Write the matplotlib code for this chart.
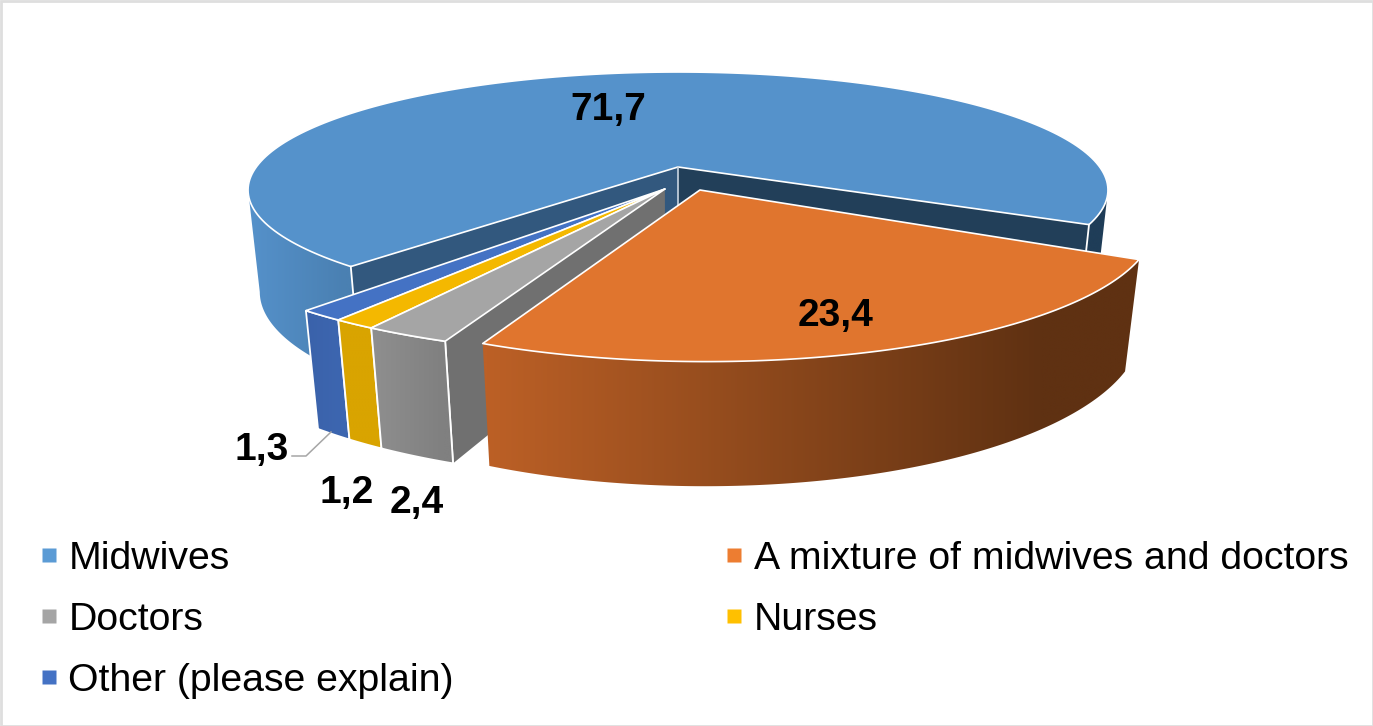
import numpy as np
import matplotlib
matplotlib.use("Agg")
import matplotlib.pyplot as plt
from matplotlib.lines import Line2D
from matplotlib.patches import Polygon, Rectangle
from matplotlib.colors import to_rgb

categories = ["Midwives", "A mixture of midwives and doctors", "Doctors", "Nurses", "Other (please explain)"]
values = [71.7, 23.4, 2.4, 1.2, 1.3]
colors = ["#5592CB", "#E0752E", "#A5A5A5", "#F4B800", "#4472C4"]
legend_colors = ["#5B9BD5", "#ED7D31", "#A5A5A5", "#FFC000", "#4472C4"]
explode = [(0, 0), (0.05, 0.195), (-0.03, 0.187), (-0.03, 0.187), (-0.03, 0.187)]
radius_u = [1.0, 1.01, 1.07, 1.07, 1.07]
radius_v = [1.0, 1.09, 1.07, 1.07, 1.07]
start_angle = 130.5

CX, CY, A, B, C, K, M = 678, 167, 421.7, 113.5, 102, 0.195, 0.027

def proj(u, v, z=0.0):
    w = 1 - K * np.asarray(v) + M * z
    return CX + A * np.asarray(u) / w, CY + (B * np.asarray(v) + C * z) / w

def rim(i, t, z=0.0):
    u0, v0 = explode[i]
    t = np.radians(t)
    return proj(u0 + radius_u[i] * np.cos(t), v0 + radius_v[i] * np.sin(t), z)

def wall(ax, i, t0, t1, c0, c1, x0, x1, z_order=2, outline=False):
    ts = np.linspace(t0, t1, 160)
    xt, yt = rim(i, ts)
    xb, yb = rim(i, ts, 1.0)
    pts = np.column_stack([np.r_[xt, xb[::-1]], np.r_[yt, yb[::-1]]])
    patch = Polygon(pts, closed=True, facecolor="none", edgecolor="none", transform=ax.transData)
    ax.add_patch(patch)
    xmin, xmax = pts[:, 0].min() - 2, pts[:, 0].max() + 2
    ymin, ymax = pts[:, 1].min() - 2, pts[:, 1].max() + 2
    xs = np.linspace(xmin, xmax, 512)
    f = np.clip((xs - x0) / (x1 - x0), 0, 1)[:, None]
    row = np.array(to_rgb(c0)) * (1 - f) + np.array(to_rgb(c1)) * f
    im = ax.imshow(row[None, :, :], extent=(xmin, xmax, ymax, ymin), aspect="auto",
                   interpolation="bilinear", zorder=z_order)
    im.set_clip_path(patch)
    if outline:
        ax.add_patch(Polygon(pts, closed=True, facecolor="none", edgecolor="white", lw=1.3, zorder=z_order + 0.05))

def top(ax, i, t0, t1, z_order=2):
    ts = np.linspace(t0, t1, 200)
    xs, ys = rim(i, ts)
    ax0, ay0 = proj(*explode[i])
    pts = [(float(ax0), float(ay0))] + list(zip(xs, ys))
    ax.add_patch(Polygon(pts, closed=True, facecolor=colors[i], edgecolor="white", lw=1.2, joinstyle="round", zorder=z_order))

def radial_wall(ax, i, t, color, z_order=2):
    x1, y1 = rim(i, t)
    x2, y2 = rim(i, t, 1.0)
    x0, y0 = proj(*explode[i])
    x3, y3 = proj(*explode[i], 1.0)
    ax.add_patch(Polygon([(x0, y0), (x1, y1), (x2, y2), (x3, y3)], closed=True, facecolor=color, edgecolor="none", zorder=z_order))
    ax.plot([x1, x2], [y1, y2], color="white", lw=1.3, zorder=z_order + 0.1)

fig = plt.figure(figsize=(13.73, 7.26), dpi=100)
ax = fig.add_axes([0, 0, 1, 1])
ax.axis("off")
ax.add_patch(Rectangle((0.5, 0.5), 1372, 725, facecolor="white", edgecolor="#DEDEDE", lw=2, zorder=0))

# slice angles from the values, with small corrections for the drawn view
angles = [start_angle]
for val in values:
    angles.append(angles[-1] + val / sum(values) * 360)
mid0, mid1 = angles[0] + 1.0, angles[1] - 1.1
or0, or1 = angles[1] - 360 - 0.8, angles[2] - 360 + 0.8
doc0 = angles[2] - 360 - 1.2
doc1 = doc0 + values[2] * 3.6
nur0, nur1 = doc1, doc1 + values[3] * 3.6
oth0, oth1 = nur1, nur1 + values[4] * 3.6

# Midwives
wall(ax, 0, mid1 - 16, mid1, "#1F3D58", "#1F3D58", 0, 1)
radial_wall(ax, 0, mid1, "#223F59")
radial_wall(ax, 0, mid0, "#32587E")
wall(ax, 0, mid0, 169, "#4A80B2", "#5591CA", 345, 250)
top(ax, 0, mid0, mid1)
x, y = proj(0, 0)
x2, y2 = proj(0, 0, 0.45)
ax.plot([x, x2], [y, y2], color="#C9D6E2", lw=1.2, zorder=2.5)

# Other, Nurses, Doctors
wall(ax, 4, oth0, oth1, "#3D66B0", "#3A62AA", 340, 305, z_order=3, outline=True)
top(ax, 4, oth0, oth1, z_order=3.1)
wall(ax, 3, nur0, nur1, "#D9A400", "#D9A400", 0, 1, z_order=3.2, outline=True)
top(ax, 3, nur0, nur1, z_order=3.3)
radial_wall(ax, 2, doc0, "#707070", z_order=3.4)
wall(ax, 2, doc0, doc1, "#808080", "#8F8F8F", 443, 372, z_order=3.5, outline=True)
top(ax, 2, doc0, doc1, z_order=3.6)

# Mixture
wall(ax, 1, or0, or1, "#5F3112", "#BC6026", 1040, 487, z_order=4)
top(ax, 1, or0, or1, z_order=4.1)

ax.set_xlim(0, 1373)
ax.set_ylim(726, 0)

# Labels
font = ["Liberation Sans", "DejaVu Sans"]
label_pos = [(608, 110), (836, 316), (417, 503), (347, 493), (262, 450)]
for val, pos in zip(values, label_pos):
    ax.text(pos[0], pos[1], f"{val:.1f}".replace(".", ","), family=font, fontsize=28,
            fontweight="bold", color="black", ha="center", va="center", zorder=6)
ax.plot([331, 306, 292], [432, 456, 456], color="#A6A6A6", lw=1.1, zorder=5)

# Legend
order = [0, 2, 4, 1, 3]
handles = [Line2D([], [], linestyle="none", marker="s", markersize=9.4, markerfacecolor=legend_colors[i],
                  markeredgecolor="none", label=categories[i]) for i in order]
fig.legend(handles=handles, ncol=2, loc="lower left", bbox_to_anchor=(37 / 1373, 27 / 726),
           frameon=False, prop={"family": font, "size": 28.3}, handlelength=0.6, handletextpad=0.2,
           labelspacing=0.64, columnspacing=6.83, borderpad=0, borderaxespad=0)

fig.savefig("out.png", dpi=100)
